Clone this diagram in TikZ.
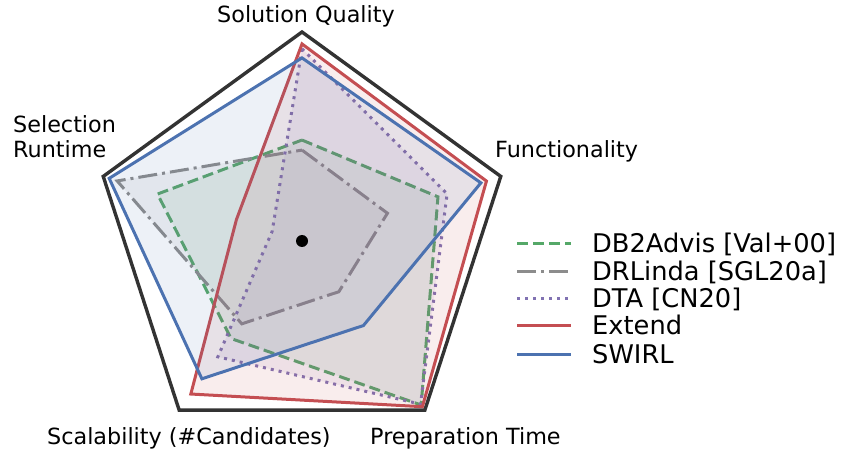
\documentclass[tikz,border=0pt]{standalone}
\usepackage{fontspec}
\setmainfont{DejaVu Sans}
\definecolor{cgreen}{HTML}{55A868}
\definecolor{cgray}{HTML}{8C8C8C}
\definecolor{cpurple}{HTML}{8172B2}
\definecolor{cred}{HTML}{C44E52}
\definecolor{cblue}{HTML}{4C72B0}
\definecolor{cframe}{HTML}{333333}
\begin{document}
\begin{tikzpicture}[x=1pt,y=1pt,
  serie/.style={line width=3pt, line join=miter},
  lgreen/.style={serie, draw=cgreen, dash pattern=on 11pt off 5pt},
  lgray/.style={serie, draw=cgray, dash pattern=on 19pt off 5pt on 3pt off 5pt},
  lpurple/.style={serie, draw=cpurple, dash pattern=on 3pt off 5pt},
  lred/.style={serie, draw=cred},
  lblue/.style={serie, draw=cblue},
  area/.style={fill=#1, fill opacity=0.1},
  axislabel/.style={font=\fontsize{22.3}{25}\selectfont, inner sep=0pt},
  legtext/.style={font=\fontsize{25.7}{28}\selectfont, inner sep=0pt, anchor=base west}]
\useasboundingbox (0,0) rectangle (843,450);
\def\R{209}
\begin{scope}[shift={(302,209)}]
  % outer frame of the radar chart
  \draw[cframe, line width=3.4pt, line join=miter]
    (90:\R) -- (18:\R) -- (-54:\R) -- (-126:\R) -- (162:\R) -- cycle;
  % DB2Advis
  \path[area=cgreen] (90:{0.483*\R}) -- (18:{0.684*\R}) -- (-54:{0.97*\R}) -- (-126:{0.577*\R}) -- (162:{0.727*\R}) -- cycle;
  \draw[lgreen] (90:{0.483*\R}) -- (18:{0.684*\R}) -- (-54:{0.97*\R}) -- (-126:{0.577*\R}) -- (162:{0.727*\R}) -- cycle;
  % DRLinda
  \path[area=cgray] (90:{0.435*\R}) -- (18:{0.43*\R}) -- (-54:{0.30*\R}) -- (-126:{0.49*\R}) -- (162:{0.93*\R}) -- cycle;
  \draw[lgray] (90:{0.435*\R}) -- (18:{0.43*\R}) -- (-54:{0.30*\R}) -- (-126:{0.49*\R}) -- (162:{0.93*\R}) -- cycle;
  % DTA
  \path[area=cpurple] (90:{0.92*\R}) -- (18:{0.73*\R}) -- (-54:{0.965*\R}) -- (-126:{0.685*\R}) -- (162:{0.15*\R}) -- cycle;
  \draw[lpurple] (90:{0.92*\R}) -- (18:{0.73*\R}) -- (-54:{0.965*\R}) -- (-126:{0.685*\R}) -- (162:{0.15*\R}) -- cycle;
  % Extend
  \path[area=cred] (90:{0.943*\R}) -- (18:{0.928*\R}) -- (-54:{0.98*\R}) -- (-126:{0.905*\R}) -- (162:{0.33*\R}) -- cycle;
  \draw[lred] (90:{0.943*\R}) -- (18:{0.928*\R}) -- (-54:{0.98*\R}) -- (-126:{0.905*\R}) -- (162:{0.33*\R}) -- cycle;
  % SWIRL
  \path[area=cblue] (90:{0.876*\R}) -- (18:{0.90*\R}) -- (-54:{0.50*\R}) -- (-126:{0.815*\R}) -- (162:{0.97*\R}) -- cycle;
  \draw[lblue] (90:{0.876*\R}) -- (18:{0.90*\R}) -- (-54:{0.50*\R}) -- (-126:{0.815*\R}) -- (162:{0.97*\R}) -- cycle;
  % centre point
  \fill[black] (0,0) circle (6);
\end{scope}
% axis labels
\node[axislabel, anchor=base] (sq) at (306,427) {Solution Quality};
\node[axislabel, anchor=base west] (fu) at (495,292) {Functionality};
\node[axislabel, anchor=base west] (sr1) at (13,317) {Selection};
\node[axislabel, anchor=base west] (sr2) at (13,292) {Runtime};
\node[axislabel, anchor=base west] (sc) at (47,6) {Scalability (\#Candidates)};
\node[axislabel, anchor=base west] (pt) at (370,6) {Preparation Time};
% legend
\coordinate (g1) at (517,206); \coordinate (g2) at (571,206);
\coordinate (d1) at (517,178); \coordinate (d2) at (571,178);
\coordinate (p1) at (517,151); \coordinate (p2) at (571,151);
\coordinate (r1) at (517,124); \coordinate (r2) at (571,124);
\coordinate (b1) at (517,96);  \coordinate (b2) at (571,96);
\draw[lgreen] (g1) -- (g2);
\draw[lgray] (d1) -- (d2);
\draw[lpurple] (p1) -- (p2);
\draw[lred] (r1) -- (r2);
\draw[lblue] (b1) -- (b2);
\node[legtext] (lg) at (592,197) {DB2Advis [Val+00]};
\node[legtext] (ld) at (592,169) {DRLinda [SGL20a]};
\node[legtext] (lp) at (592,142) {DTA [CN20]};
\node[legtext] (lr) at (592,115) {Extend};
\node[legtext] (lb) at (592,87) {SWIRL};
\end{tikzpicture}
\end{document}
